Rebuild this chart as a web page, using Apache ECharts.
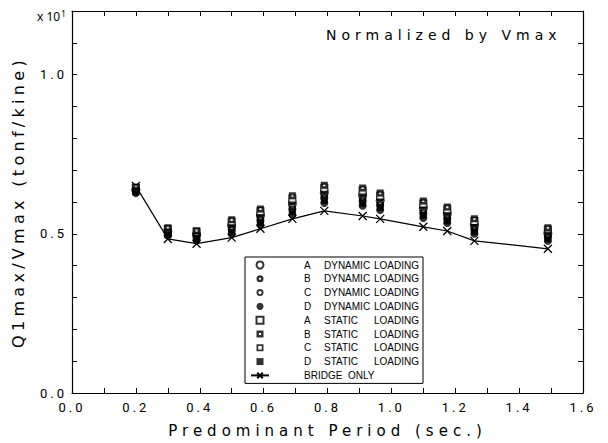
<!DOCTYPE html>
<html><head><meta charset="utf-8">
<script src="https://cdn.jsdelivr.net/npm/echarts@6/dist/echarts.min.js"></script>
<style>
html,body{margin:0;padding:0;background:#fff}
#c{width:608px;height:443px}
#c text[style*="Roboto"]{letter-spacing:3px}
#c text[style*="DejaVu"]{letter-spacing:5px}
#c text[style*="DejaVu"][style*="16px"]{letter-spacing:4.3px}
</style></head><body><div id="c"></div>
<script>
const periods = [0.2, 0.3, 0.39, 0.5, 0.59, 0.69, 0.79, 0.91, 0.965, 1.1, 1.175, 1.26, 1.49];
const bridgeOnly = [0.650, 0.484, 0.469, 0.488, 0.516, 0.547, 0.572, 0.556, 0.547, 0.522, 0.509, 0.478, 0.453];
const statB = [.647, .519, .510, .544, .578, .620, .653, .644, .628, .603, .584, .547, .519];
const statA = [.644, .515, .506, .538, .571, .611, .645, .636, .620, .595, .577, .540, .513];
const dynB  = [.641, .512, .501, .531, .564, .603, .637, .628, .613, .588, .570, .534, .507];
const dynA  = [.638, .508, .497, .525, .557, .594, .629, .620, .605, .580, .563, .527, .501];
const statC = [.636, .505, .493, .519, .549, .586, .621, .612, .598, .573, .555, .520, .496];
const dynC  = [.634, .501, .489, .513, .542, .577, .613, .604, .590, .565, .548, .513, .490];
const statD = [.631, .498, .484, .506, .535, .569, .605, .596, .583, .558, .541, .507, .484];
const dynD  = [.628, .494, .480, .500, .528, .560, .597, .588, .575, .550, .534, .500, .478];
const xTickLabels = ['0.0','0.2','0.4','0.6','0.8','1.0','1.2','1.4','1.6'];
const yTickLabels = ['0.0','0.5','1.0'];

const circleHole = 'path://M0,-5A5,5,0,1,1,0,5A5,5,0,1,1,0,-5ZM0,-1.6A1.6,1.6,0,1,0,0,1.6A1.6,1.6,0,1,0,0,-1.6Z';
const circleRing = 'path://M0,-5A5,5,0,1,1,0,5A5,5,0,1,1,0,-5ZM0,-2.4A2.4,2.4,0,1,0,0,2.4A2.4,2.4,0,1,0,0,-2.4Z';
const squareSym  = 'path://M0,0L10,0L10,10L0,10Z';
const squareHole = 'path://M0,0L10,0L10,10L0,10ZM3.5,3.5L3.5,6.5L6.5,6.5L6.5,3.5Z';
const squareRing = 'path://M0,0L10,0L10,10L0,10ZM2.5,2.5L2.5,7.5L7.5,7.5L7.5,2.5Z';
const crossSym = 'path://M0,0L10,10M10,0L0,10';

function pts(arr){ return periods.map((p,i)=>[p, arr[i]]); }
function sc(name, arr, symbol, open, size){
  return {
    name, type:'scatter', data: pts(arr), symbol, symbolSize: size, symbolKeepAspect: true, z: 3,
    itemStyle: open ? {color:'#fff', borderColor:'#000', borderWidth:1.1} : {color:'#000'}
  };
}
const series = [
  sc('A DYNAMIC LOADING', dynA, 'circle', true, 8),
  sc('B DYNAMIC LOADING', dynB, circleHole, false, 8),
  sc('C DYNAMIC LOADING', dynC, circleRing, false, 8),
  sc('D DYNAMIC LOADING', dynD, 'circle', false, 8),
  sc('A STATIC LOADING', statA, squareSym, true, 7),
  sc('B STATIC LOADING', statB, squareHole, false, 7),
  sc('C STATIC LOADING', statC, squareRing, false, 7),
  sc('D STATIC LOADING', statD, squareSym, false, 7),
  {
    name:'BRIDGE ONLY', type:'line', data: pts(bridgeOnly), z: 2,
    symbol: crossSym, symbolSize: 8, showAllSymbol: true,
    lineStyle:{color:'#000', width:1.2},
    itemStyle:{color:'#000', borderColor:'#000', borderWidth:1.3}
  }
];

function xFmt(v){ const s=(Math.round(v*10)/10).toFixed(1); return xTickLabels.includes(s)?s:''; }
function yFmt(v){ const s=(Math.round(v*10)/10).toFixed(1); return yTickLabels.includes(s)?s:''; }

const axisCommon = {
  type:'value', interval:0.1, splitLine:{show:false},
  axisLine:{show:true, onZero:false, lineStyle:{color:'#000', width:1.2}},
  axisTick:{show:true, inside:true, length:5, lineStyle:{color:'#000', width:1}}
};
const labelStyle = {color:'#000', fontFamily:'Roboto', fontSize:13};

const chart = echarts.init(document.getElementById('c'), null, {renderer:'svg'});
chart.setOption({
  animation:false,
  backgroundColor:'#fff',
  grid:{left:72, right:25, top:11, bottom:48},
  title:[
    {text:'Normalized by Vmax', left:326, top:28, padding:0,
     textStyle:{fontFamily:'DejaVu Sans', fontSize:14, fontWeight:'normal', color:'#000'}},
    {text:'x 10{s|1}', left:37, top:9, padding:0,
     textStyle:{fontFamily:'Noto Sans', fontSize:12, fontWeight:'normal', color:'#000', lineHeight:14,
       rich:{s:{fontFamily:'Noto Sans', fontSize:8, lineHeight:14, verticalAlign:'top', padding:[0,0,0,1], color:'#000'}}}}
  ],
  xAxis:[
    Object.assign({}, axisCommon, {min:0, max:1.6, position:'bottom',
      axisLabel:Object.assign({margin:8, formatter:xFmt, showMinLabel:true, showMaxLabel:true}, labelStyle),
      name:'Predominant Period (sec.)', nameLocation:'middle', nameGap:30,
      nameTextStyle:{fontFamily:'DejaVu Sans', fontSize:15, color:'#000'}}),
    Object.assign({}, axisCommon, {min:0, max:1.6, position:'top', axisLabel:{show:false}})
  ],
  yAxis:[
    Object.assign({}, axisCommon, {min:0, max:1.2, position:'left',
      axisLabel:Object.assign({margin:5, formatter:yFmt, showMinLabel:true}, labelStyle),
      name:'Q1max/Vmax (tonf/kine)', nameLocation:'middle', nameGap:46,
      nameTextStyle:{fontFamily:'DejaVu Sans', fontSize:16, color:'#000'}}),
    Object.assign({}, axisCommon, {min:0, max:1.2, position:'right', axisLabel:{show:false}})
  ],
  legend:{
    orient:'vertical', left:245, top:257, padding:[3,4,3,5], itemGap:3.8,
    itemWidth:18, itemHeight:7, selectedMode:false,
    backgroundColor:'#fff', borderColor:'#000', borderWidth:1, borderRadius:0,
    data: series.map(s=>s.name),
    textStyle:{fontFamily:'Liberation Sans', fontSize:10, color:'#000',
      rich:{p:{width:30, lineHeight:10}, a:{width:20, lineHeight:10}, b:{width:50, lineHeight:10}, c:{lineHeight:10}}},
    formatter: function(name){
      if (name === 'BRIDGE ONLY') return '{p|}{c|BRIDGE  ONLY}';
      const parts = name.split(' ');
      return '{p|}{a|' + parts[0] + '}{b|' + parts[1] + '}{c|' + parts[2] + '}';
    }
  },
  series
});
</script></body></html>
